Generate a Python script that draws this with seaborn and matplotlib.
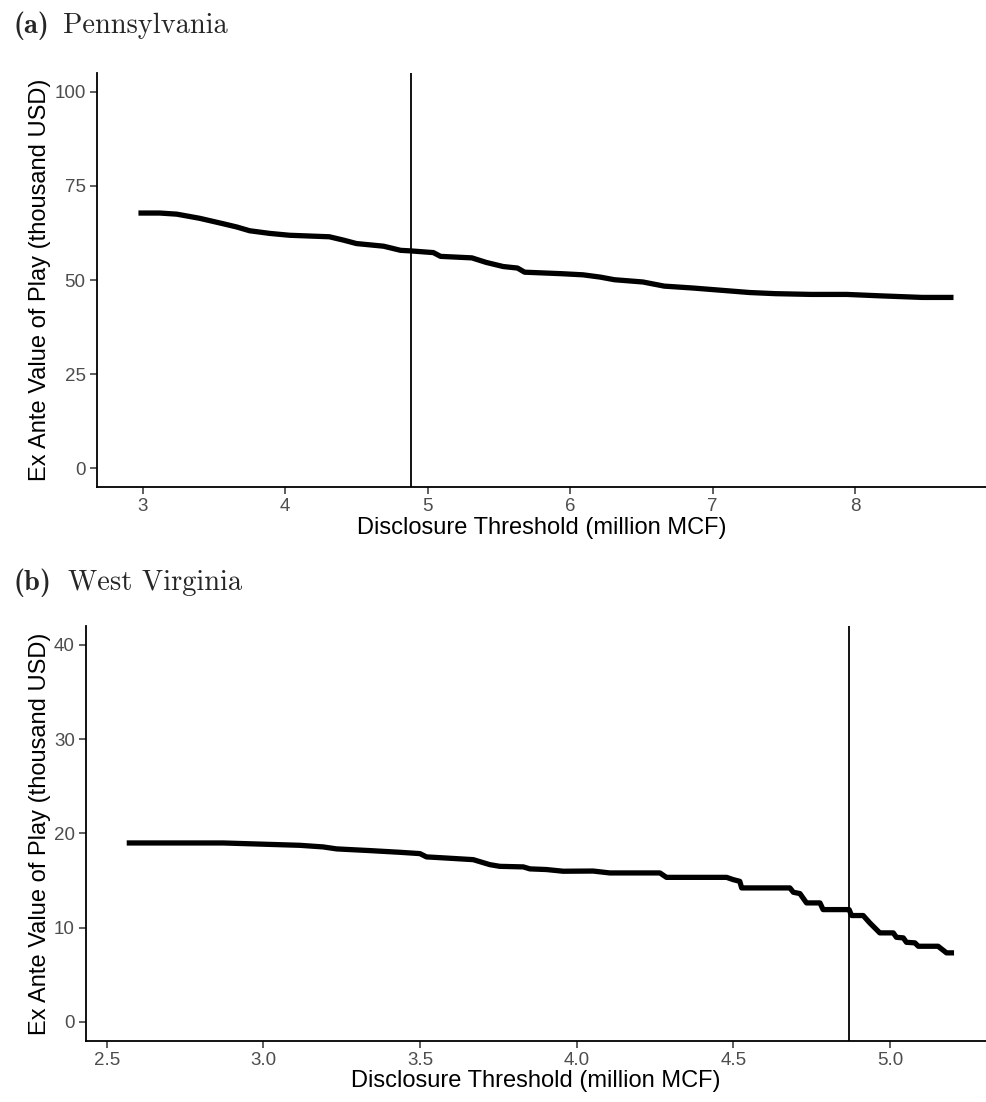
import matplotlib
matplotlib.use("Agg")
import matplotlib.pyplot as plt
import seaborn as sns
import pandas as pd

# ---------------- data ----------------
pa_threshold = [2.97, 3.12, 3.24, 3.40, 3.56, 3.66, 3.75, 3.89, 4.03, 4.31, 4.41, 4.50,
                4.69, 4.81, 4.88, 5.04, 5.09, 5.31, 5.41, 5.53, 5.63, 5.68, 5.94, 6.09,
                6.21, 6.31, 6.51, 6.66, 6.86, 7.06, 7.26, 7.44, 7.69, 7.94, 8.19, 8.47, 8.69]
pa_value = [67.8, 67.8, 67.5, 66.4, 65.0, 64.1, 63.1, 62.4, 61.9, 61.5, 60.6, 59.7,
            59.0, 57.9, 57.75, 57.3, 56.3, 55.9, 54.7, 53.6, 53.2, 52.1, 51.7, 51.4,
            50.8, 50.1, 49.5, 48.4, 47.9, 47.3, 46.7, 46.4, 46.2, 46.2, 45.8, 45.4, 45.4]
pa_cutoff = 4.88

wv_threshold = [2.564, 2.872, 3.117, 3.191, 3.234, 3.340, 3.436, 3.500, 3.521, 3.564,
                3.670, 3.723, 3.755, 3.830, 3.851, 3.904, 3.957, 4.053, 4.106, 4.266,
                4.287, 4.479, 4.500, 4.521, 4.527, 4.681, 4.692, 4.713, 4.734, 4.777,
                4.787, 4.870, 4.878, 4.915, 4.936, 4.968, 5.011, 5.021, 5.043, 5.053,
                5.080, 5.091, 5.154, 5.181, 5.205]
wv_value = [18.98, 18.98, 18.73, 18.56, 18.35, 18.17, 17.99, 17.85, 17.50, 17.42,
            17.21, 16.68, 16.50, 16.44, 16.23, 16.16, 15.98, 16.00, 15.80, 15.80,
            15.33, 15.33, 15.09, 14.91, 14.21, 14.21, 13.75, 13.61, 12.62, 12.62,
            11.91, 11.91, 11.28, 11.28, 10.50, 9.44, 9.44, 8.97, 8.91, 8.44,
            8.38, 8.02, 8.02, 7.32, 7.32]
wv_cutoff = 4.87

pa_xticks = [3, 4, 5, 6, 7, 8]
pa_yticks = [0, 25, 50, 75, 100]
wv_xticks = [2.5, 3.0, 3.5, 4.0, 4.5, 5.0]
wv_yticks = [0, 10, 20, 30, 40]

panel_tags = ["(a)", "(b)"]
panel_names = ["Pennsylvania", "West Virginia"]
xlabel = "Disclosure Threshold (million MCF)"
ylabel = "Ex Ante Value of Play (thousand USD)"

# ---------------- style ----------------
sns.set_theme(style="ticks")
plt.rcParams["font.family"] = ["Liberation Sans", "DejaVu Sans"]

W, H = 986, 1102
fig = plt.figure(figsize=(W / 100, H / 100), dpi=100)

def place(left, right, top, bottom):
    return fig.add_axes([left / W, 1 - bottom / H, (right - left) / W, (bottom - top) / H])

ax_a = place(96.7, 986, 72.9, 487.3)
ax_b = place(86, 986, 626, 1040.7)

panels = [
    (ax_a, pa_threshold, pa_value, pa_cutoff, pa_xticks, pa_yticks, (2.677, 8.918), (-5, 105), ["3", "4", "5", "6", "7", "8"]),
    (ax_b, wv_threshold, wv_value, wv_cutoff, wv_xticks, wv_yticks, (2.434, 5.307), (-2, 42), ["2.5", "3.0", "3.5", "4.0", "4.5", "5.0"]),
]

for ax, xs, ys, cut, xt, yt, xl, yl, xtl in panels:
    df = pd.DataFrame({"threshold": xs, "value": ys})
    sns.lineplot(data=df, x="threshold", y="value", ax=ax, color="black",
                 linewidth=3.8, sort=True, solid_capstyle="butt")
    ax.axvline(cut, color="black", linewidth=1.3)
    ax.set_xlim(*xl)
    ax.set_ylim(*yl)
    ax.set_xticks(xt)
    ax.set_xticklabels(xtl)
    ax.set_yticks(yt)
    ax.set_yticklabels([str(v) for v in yt])
    ax.tick_params(axis="both", length=5, width=1.1, color="#333333",
                   labelsize=13.5, labelcolor="#4D4D4D", pad=3)
    for s in ["top", "right"]:
        ax.spines[s].set_visible(False)
    for s in ["left", "bottom"]:
        ax.spines[s].set_linewidth(1.3)
        ax.spines[s].set_color("black")
    ax.set_xlabel(xlabel, fontsize=17, color="black", labelpad=1)
    ax.set_ylabel(ylabel, fontsize=17, color="black", labelpad=2)
    ax.set_facecolor("white")

# panel titles (LaTeX-like Computer Modern)
title_rows = [(33, 63), (590, 68)]
for (base_y, name_x), tag, name in zip(title_rows, panel_tags, panel_names):
    fig.text(13 / W, 1 - base_y / H, tag, fontsize=20.5, family="cmb10",
             ha="left", va="baseline")
    fig.text(name_x / W, 1 - base_y / H, name, fontsize=20.5, family="cmr10",
             ha="left", va="baseline")

fig.savefig("out.png", dpi=100, facecolor="white")
